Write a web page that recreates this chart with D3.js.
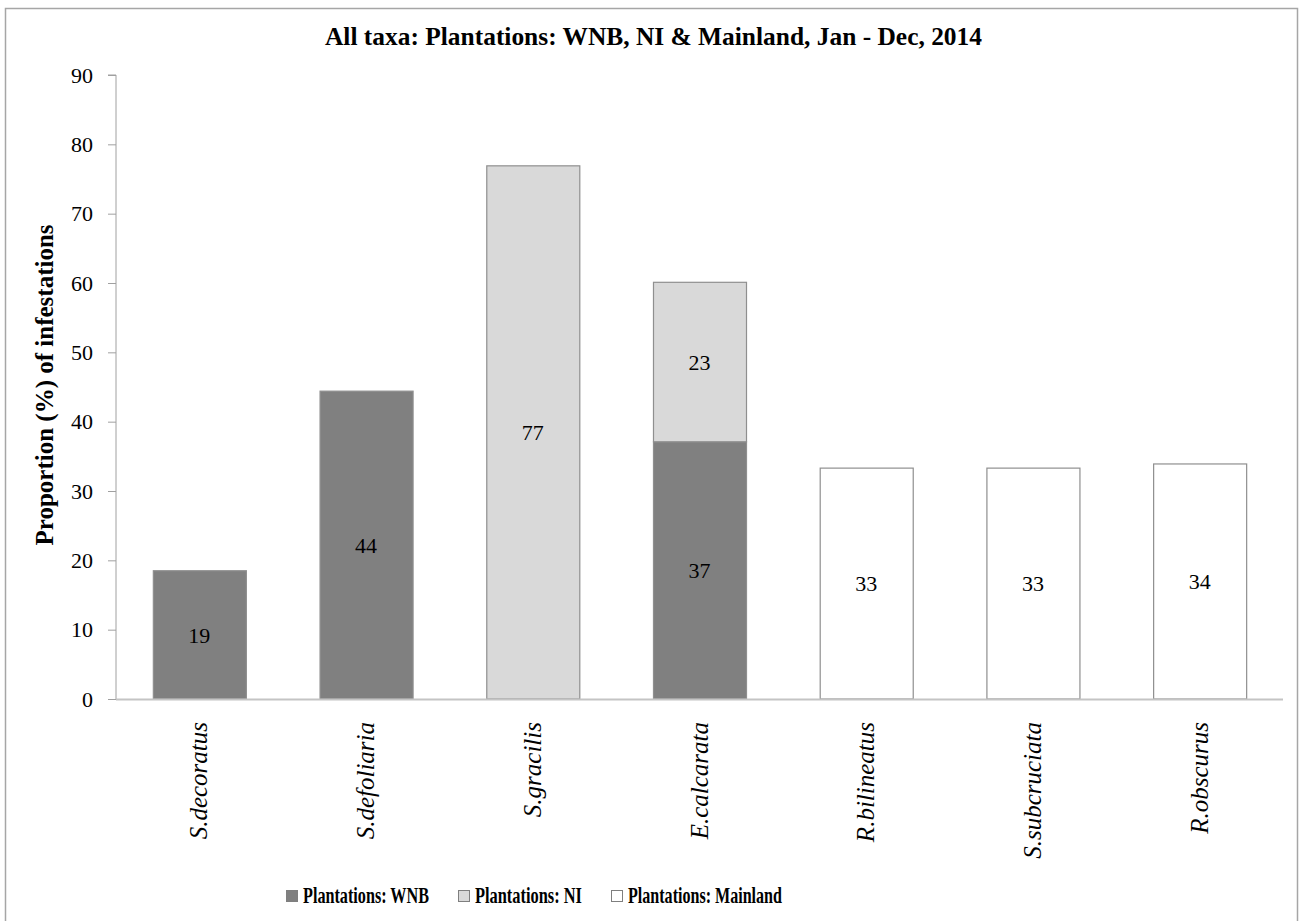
<!DOCTYPE html>
<html>
<head>
<meta charset="utf-8">
<script src="https://cdn.jsdelivr.net/npm/d3@7"></script>
<style>
  html, body { margin: 0; padding: 0; background: #fff; }
  svg { display: block; }
  svg text { font-family: "Times New Roman", Times, "Liberation Serif", Tinos, "DejaVu Serif", serif !important; fill: #000; }
</style>
</head>
<body>
<svg id="chart" width="1301" height="921"></svg>
<script>
// Taxa shown along the x axis
const categories = ["S.decoratus", "S.defoliaria", "S.gracilis", "E.calcarata",
                    "R.bilineatus", "S.subcruciata", "R.obscurus"];
// Proportion (%) of infestations per plantation group
const seriesNames = ["Plantations: WNB", "Plantations: NI", "Plantations: Mainland"];
const wnb      = [18.5, 44.4, 0, 37.1, 0, 0, 0];
const ni       = [0, 0, 76.9, 23.0, 0, 0, 0];
const mainland = [0, 0, 0, 0, 33.3, 33.3, 33.9];
const yTicks = [0, 10, 20, 30, 40, 50, 60, 70, 80, 90];
const titleText = "All taxa: Plantations: WNB, NI & Mainland, Jan - Dec, 2014";
const yLabel = "Proportion (%) of infestations";

const fills = ["#808080", "#d9d9d9", "#ffffff"];
const barStroke = "#8f8f8f";

const svg = d3.select("#chart");

// outer frame
svg.append("rect")
  .attr("x", 5.5).attr("y", 8.5).attr("width", 1292).attr("height", 930)
  .attr("fill", "none").attr("stroke", "#a6a6a6").attr("stroke-width", 1.5);

const x = d3.scaleBand().domain(categories).range([116, 1283])
  .paddingInner(0.442).paddingOuter(0.221);
const y = d3.scaleLinear().domain([0, 90]).range([699, 75]);

// stacked data
const rows = categories.map((c, i) => ({ cat: c, s0: wnb[i], s1: ni[i], s2: mainland[i] }));
const stacked = d3.stack().keys(["s0", "s1", "s2"])(rows);

// y axis
const yAxis = svg.append("g").attr("transform", "translate(116,0)")
  .call(d3.axisLeft(y).tickValues(yTicks).tickSize(8).tickPadding(15).tickFormat(d3.format("d")));
yAxis.attr("font-family", null);
yAxis.select(".domain").attr("stroke", "#a0a0a0").attr("d", `M-8,${y(90)}H0V${y(0)}`);
yAxis.selectAll(".tick line").attr("stroke", "#a0a0a0");
yAxis.selectAll(".tick text").attr("font-size", 22).attr("fill", "#000");

// bars
stacked.forEach((layer, k) => {
  svg.append("g").selectAll("rect")
    .data(layer.filter(d => d[1] - d[0] > 0))
    .join("rect")
    .attr("x", d => x(d.data.cat) + 0.5)
    .attr("width", x.bandwidth())
    .attr("y", d => y(d[1]))
    .attr("height", d => y(d[0]) - y(d[1]))
    .attr("fill", fills[k])
    .attr("stroke", barStroke)
    .attr("stroke-width", 1.2);
});

// value labels centred in each segment
stacked.forEach((layer) => {
  svg.append("g").selectAll("text")
    .data(layer.filter(d => d[1] - d[0] > 0))
    .join("text")
    .attr("x", d => x(d.data.cat) + x.bandwidth() / 2)
    .attr("y", d => (y(d[0]) + y(d[1])) / 2)
    .attr("dy", "0.35em")
    .attr("text-anchor", "middle")
    .attr("font-size", 22)
    .text(d => Math.round(d[1] - d[0]));
});

// x axis line
svg.append("line")
  .attr("x1", 116).attr("x2", 1283).attr("y1", y(0) + 0.5).attr("y2", y(0) + 0.5)
  .attr("stroke", "#c4c4c4").attr("stroke-width", 2);

// category labels, rotated
svg.append("g").selectAll("text")
  .data(categories)
  .join("text")
  .attr("transform", d => `translate(${x(d) + x.bandwidth() / 2 + 8},722) rotate(-90)`)
  .attr("text-anchor", "end")
  .attr("font-size", 25)
  .attr("font-style", "italic")
  .text(d => d);

// title
svg.append("text")
  .attr("x", 653.5).attr("y", 45)
  .attr("text-anchor", "middle")
  .attr("font-size", 26).attr("font-weight", "bold")
  .attr("textLength", 657).attr("lengthAdjust", "spacingAndGlyphs")
  .text(titleText);

// y axis title
svg.append("text")
  .attr("transform", "translate(53,385) rotate(-90)")
  .attr("text-anchor", "middle")
  .attr("font-size", 25).attr("font-weight", "bold")
  .text(yLabel);

// legend
const legendWidths = [126, 107, 154];
const legend = svg.append("g");
let lx = 286;
seriesNames.forEach((name, i) => {
  legend.append("rect")
    .attr("x", lx + 0.5).attr("y", 890.5).attr("width", 11).attr("height", 11)
    .attr("fill", fills[i]).attr("stroke", "#7f7f7f").attr("stroke-width", 1);
  legend.append("text")
    .attr("x", lx + 17).attr("y", 903)
    .attr("font-size", 23).attr("font-weight", "bold")
    .attr("textLength", legendWidths[i]).attr("lengthAdjust", "spacingAndGlyphs")
    .text(name);
  lx += 17 + legendWidths[i] + 29;
});
</script>
</body>
</html>
